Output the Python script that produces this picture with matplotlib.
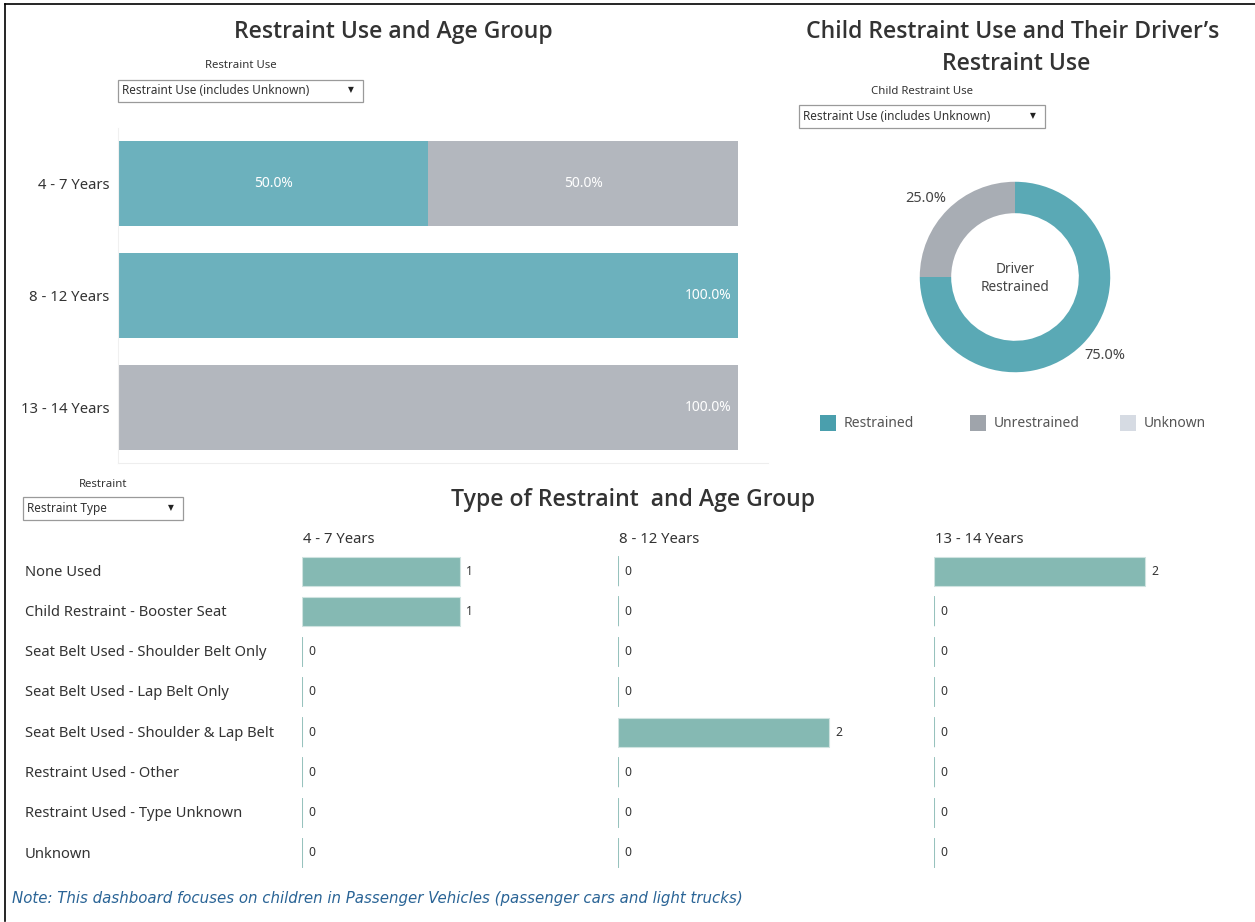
import numpy as np
import matplotlib.pyplot as plt
from matplotlib.patches import Rectangle

plt.rcParams['font.family'] = ['Noto Sans', 'DejaVu Sans']

W, H = 1255, 922

# Data: restraint use by age group (share, %)
ages = ['4 - 7 Years', '8 - 12 Years', '13 - 14 Years']
restrained_pct = [50.0, 100.0, 0.0]
unrestrained_pct = [50.0, 0.0, 100.0]

# Data: driver restrained donut
donut_labels = ['Restrained', 'Unrestrained', 'Unknown']
donut_pct = [75.0, 25.0, 0.0]

# Data: restraint type counts per age group
types = ['None Used', 'Child Restraint - Booster Seat', 'Seat Belt Used - Shoulder Belt Only',
         'Seat Belt Used - Lap Belt Only', 'Seat Belt Used - Shoulder & Lap Belt',
         'Restraint Used - Other', 'Restraint Used - Type Unknown', 'Unknown']
counts_4_7 = [1, 1, 0, 0, 0, 0, 0, 0]
counts_8_12 = [0, 0, 0, 0, 2, 0, 0, 0]
counts_13_14 = [2, 0, 0, 0, 0, 0, 0, 0]

c_teal = '#6cb1bd'; c_gray = '#b3b7be'
c_rest = '#5aa9b5'; c_unrest = '#a8adb4'
leg_cols = ['#4a9fad', '#9fa4ab', '#d6dbe3']
c_bar = '#85b9b3'; c_txt = '#333333'
title_font = dict(family=['Open Sans', 'DejaVu Sans'], fontweight='semibold', color=c_txt)


def box(x0, y0, x1, y1):
    # pixel box (top-left origin) -> figure fraction
    return [x0 / W, 1 - y1 / H, (x1 - x0) / W, (y1 - y0) / H]


def fx(x): return x / W
def fy(y): return 1 - y / H


fig = plt.figure(figsize=(W / 100, H / 100), dpi=100)
fig.patch.set_facecolor('white')

# frame lines
fig.add_artist(plt.Line2D([fx(5), fx(5)], [fy(4), fy(921)], color='black', lw=1.2))
fig.add_artist(plt.Line2D([fx(5), fx(1255)], [fy(4), fy(4)], color='black', lw=1.2))


def dropdown(x0, y0, x1, y1, label, lx, ly, text, fs=8.5):
    fig.text(fx(lx), fy(ly), label, ha='center', va='center', fontsize=8.2, color=c_txt)
    fig.add_artist(Rectangle((fx(x0), fy(y1)), fx(x1 - x0), (y1 - y0) / H,
                             transform=fig.transFigure, fill=False, ec='#9a9a9a', lw=0.9))
    fig.text(fx(x0 + 4), fy((y0 + y1) / 2), text, ha='left', va='center', fontsize=fs, color=c_txt)
    fig.text(fx(x1 - 12), fy((y0 + y1) / 2), '\u25bc', ha='center', va='center', fontsize=5.5, color='#222222')


# ---------- top-left: restraint use and age group ----------
fig.text(fx(393), fy(32), 'Restraint Use and Age Group', ha='center', va='center',
         fontsize=16.6, **title_font)
dropdown(118, 80, 363, 102, 'Restraint Use', 241, 65, 'Restraint Use (includes Unknown)')

ax1 = fig.add_axes(box(118, 128, 768, 463))
y = np.arange(len(ages))
ax1.barh(y, restrained_pct, height=0.755, color=c_teal)
ax1.barh(y, unrestrained_pct, left=restrained_pct, height=0.755, color=c_gray)
for i in range(len(ages)):
    r, u = restrained_pct[i], unrestrained_pct[i]
    if r > 0 and u > 0:
        ax1.text(r / 2, i, f'{r:.1f}%', ha='center', va='center', color='white', fontsize=10)
        ax1.text(r + u / 2, i, f'{u:.1f}%', ha='center', va='center', color='white', fontsize=10)
    else:
        ax1.text(98.9, i, f'{max(r, u):.1f}%', ha='right', va='center', color='white', fontsize=10)
ax1.set_xlim(0, 104.8)
ax1.set_ylim(2.49, -0.49)
ax1.set_yticks(y)
ax1.set_yticklabels(ages, fontsize=10.7, color=c_txt)
ax1.tick_params(axis='y', length=0, pad=6)
ax1.set_xticks([])
for s in ['top', 'right']:
    ax1.spines[s].set_visible(False)
ax1.spines['left'].set_color('#f0f0f0')
ax1.spines['bottom'].set_color('#eeeeee')

# ---------- top-right: donut ----------
fig.text(fx(1013), fy(32), 'Child Restraint Use and Their Driver\u2019s', ha='center', va='center',
         fontsize=16.6, **title_font)
fig.text(fx(1016), fy(64), 'Restraint Use', ha='center', va='center',
         fontsize=16.6, **title_font)
dropdown(799, 105, 1045, 128, 'Child Restraint Use', 922, 92, 'Restraint Use (includes Unknown)')

ax2 = fig.add_axes(box(915, 177, 1115, 377))
ax2.pie(donut_pct[:2], colors=[c_rest, c_unrest], startangle=90, counterclock=False,
        radius=1.0, wedgeprops=dict(width=0.33, linewidth=0))
ax2.set_xlim(-1.05, 1.05); ax2.set_ylim(-1.05, 1.05)
ax2.set_aspect('equal')
ax2.text(0, 0.08, 'Driver', ha='center', va='center', fontsize=9.8, color='#444444')
ax2.text(0, -0.11, 'Restrained', ha='center', va='center', fontsize=9.8, color='#444444')
fig.text(fx(926), fy(198), f'{donut_pct[1]:.1f}%', ha='center', va='center', fontsize=10.5, color='#444444')
fig.text(fx(1105), fy(355), f'{donut_pct[0]:.1f}%', ha='center', va='center', fontsize=10.5, color='#444444')

leg_x = [820, 970, 1120]
for lx, lab, col in zip(leg_x, donut_labels, leg_cols):
    fig.add_artist(Rectangle((fx(lx), fy(431)), fx(16), 16 / H, transform=fig.transFigure,
                             fc=col, ec='none'))
    fig.text(fx(lx + 24), fy(423), lab, ha='left', va='center', fontsize=10, color='#555555')

# ---------- bottom: type of restraint ----------
dropdown(23, 497, 183, 520, 'Restraint', 103, 484, 'Restraint Type')
fig.text(fx(633), fy(500), 'Type of Restraint  and Age Group', ha='center', va='center',
         fontsize=16.6, **title_font)

for i, t in enumerate(types):
    fig.text(fx(25), fy(572 + i * 40.3), t, ha='left', va='center', fontsize=10.6, color=c_txt)

cols = [counts_4_7, counts_8_12, counts_13_14]
col_x = [302, 618, 934]
col_max = [2, 3, 3]
rows = np.arange(len(types))
for vals, x0, xm, lab in zip(cols, col_x, col_max, ages):
    ax = fig.add_axes(box(x0, 551, x0 + 316, 873))
    ax.barh(rows, vals, height=0.72, color=c_bar, edgecolor='#cfe3e0', linewidth=0.8)
    for r, v in zip(rows, vals):
        if v == 0:
            ax.vlines(0, r - 0.37, r + 0.37, color='#8cbcb6', lw=1.2)
        ax.text(v + 0.04 * xm / 2, r, str(v), ha='left', va='center', fontsize=8.8, color=c_txt)
    ax.set_xlim(0, xm)
    ax.set_ylim(len(types) - 0.5, -0.5)
    ax.axis('off')
    fig.text(fx(x0 + 1), fy(539), lab, ha='left', va='center', fontsize=10.7, color=c_txt)

fig.text(fx(12), fy(898), 'Note: This dashboard focuses on children in Passenger Vehicles '
         '(passenger cars and light trucks)', ha='left', va='center', fontsize=10.8,
         color='#2a6496', style='italic', family=['DejaVu Sans'])

fig.savefig('out.png', dpi=100)
